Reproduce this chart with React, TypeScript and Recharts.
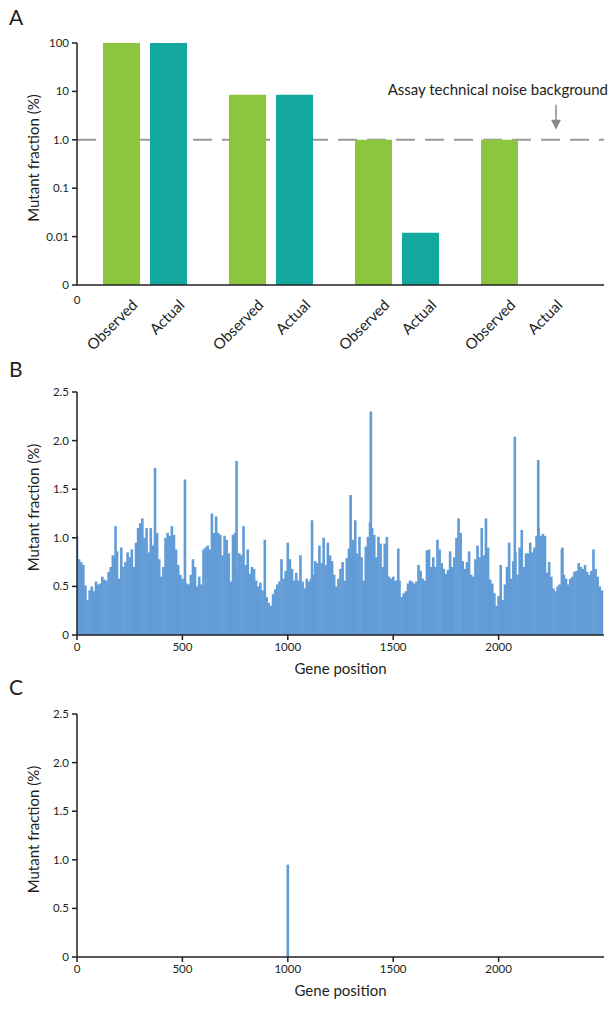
import React from "react";
import { BarChart, Bar, XAxis, YAxis, ReferenceLine, Label } from "recharts";

const FONT = "Lato, 'Open Sans', sans-serif";
const INK = "#231f20";
const GREEN = "#8cc63f";
const TEAL = "#13a89e";
const BLUE = "#629cd7";

// panel A: observed vs actual mutant fraction (log axis, "0" sits one decade under 0.01)
const groups = ["1", "2", "3", "4"];
const observed = [100, 8.5, 1.0, 1.0];
const actual: (number | null)[] = [100, 8.5, 0.012, null];
const barLabels = ["Observed", "Actual"];
const logTicks = [0.001, 0.01, 0.1, 1, 10, 100];
const logTickLabels = ["0", "0.01", "0.1", "1.0", "10", "100"];
const noiseLevel = 1;
const noiseText = "Assay technical noise background";

// panel B: mutant fraction along the gene, one value per 10 positions
const profileStep = 10;
const profile = [
  1.02, 0.78, 0.75, 0.72, 0.51, 0.36, 0.46, 0.5, 0.45, 0.55,
  0.52, 0.53, 0.6, 0.57, 0.56, 0.65, 0.7, 0.82, 0.8, 0.86,
  0.58, 0.9, 0.7, 0.75, 0.85, 0.8, 0.88, 0.7, 0.95, 1.1,
  1.15, 1.2, 1.0, 1.1, 0.85, 1.1, 0.92, 0.95, 1.05, 0.78,
  0.6, 0.7, 1.0, 1.05, 1.02, 1.12, 1.03, 0.88, 0.72, 0.62,
  0.58, 0.55, 0.53, 0.52, 0.62, 0.78, 0.7, 0.5, 0.6, 0.52,
  0.88, 0.9, 0.92, 0.88, 1.25, 1.05, 1.22, 1.05, 1.03, 0.82,
  1.02, 0.98, 0.84, 0.55, 1.03, 1.05, 0.62, 0.84, 0.82, 1.12,
  0.72, 0.88, 0.63, 0.7, 0.68, 0.56, 0.5, 0.54, 0.46, 0.4,
  0.39, 0.33, 0.3, 0.42, 0.47, 0.52, 0.55, 0.78, 0.58, 0.66,
  0.95, 0.78, 0.68, 0.56, 0.64, 0.56, 0.82, 0.55, 0.48, 0.58,
  0.55, 0.58, 0.62, 0.76, 0.74, 0.92, 0.74, 1.0, 0.72, 0.95,
  0.82, 0.76, 0.62, 0.5, 0.58, 0.68, 0.75, 0.56, 0.79, 0.89,
  0.79, 0.98, 1.18, 0.84, 1.01, 0.8, 0.56, 0.91, 1.01, 1.16,
  1.1, 1.03, 0.8, 1.01, 0.94, 0.7, 0.94, 1.01, 0.6, 0.58,
  0.6, 0.56, 0.56, 0.56, 0.39, 0.43, 0.45, 0.53, 0.56, 0.55,
  0.53, 0.55, 0.72, 0.66, 0.58, 0.56, 0.87, 0.88, 0.7, 0.8,
  0.7, 0.98, 0.88, 0.74, 0.68, 0.63, 0.67, 0.86, 0.7, 0.8,
  1.0, 1.2, 1.05, 0.76, 0.68, 0.75, 0.86, 0.62, 0.6, 0.78,
  0.92, 0.8, 1.1, 0.82, 1.2, 0.9, 0.57, 0.53, 0.43, 0.3,
  0.4, 0.72, 0.36, 0.52, 0.7, 0.95, 0.58, 0.76, 0.85, 0.62,
  0.9, 1.08, 0.7, 0.84, 0.84, 0.95, 0.85, 0.9, 1.02, 1.1,
  1.02, 1.04, 1.02, 0.64, 0.75, 0.6, 0.48, 0.45, 0.5, 0.52,
  0.88, 0.62, 0.58, 0.52, 0.58, 0.6, 0.65, 0.66, 0.74, 0.7,
  0.68, 0.72, 0.65, 0.62, 0.66, 0.88, 0.68, 0.6, 0.5, 0.46,
];
const spikePositions = [183, 370, 512, 757, 891, 1115, 1298, 1394, 1524, 2077, 2188, 2303];
const spikeValues = [1.12, 1.72, 1.6, 1.79, 0.98, 1.18, 1.44, 2.3, 0.89, 2.04, 1.8, 0.9];

// panel C: single mutant position
const singlePositions = [1000];
const singleValues = [0.95];

const geneTicks = [0, 500, 1000, 1500, 2000];
const fractionTicks = [0, 0.5, 1, 1.5, 2, 2.5];

const groupRows = groups.map((g, i) => ({ group: g, observed: observed[i], actual: actual[i] }));

const profileRows = [
  ...profile.map((v, i) => ({ pos: i * profileStep, value: v })),
  ...spikePositions.map((p, i) => ({ pos: p, value: spikeValues[i] })),
].sort((a, b) => a.pos - b.pos);

const singleRows = singlePositions.map((p, i) => ({ pos: p, value: singleValues[i] }));

const tickStyle = { fontSize: 11.5, fill: INK, fontFamily: FONT };
const axisLine = { stroke: INK, strokeWidth: 1.5 };

function YTitle(props: any) {
  const vb = props.viewBox;
  const cx = 33;
  const cy = vb.y + vb.height / 2 - 6;
  return (
    <text
      x={cx}
      y={cy}
      transform={`rotate(-90 ${cx} ${cy})`}
      textAnchor="middle"
      dominantBaseline="central"
      fontSize={15}
      fill={INK}
      fontFamily={FONT}
    >
      Mutant fraction (%)
    </text>
  );
}

function GroupTick(props: any) {
  const { x, y } = props;
  const half = (37 + 10) / 2;
  return (
    <g>
      {barLabels.map((t, i) => {
        const tx = x + (i === 0 ? -half : half) + 17;
        const ty = y + 21;
        return (
          <text
            key={t}
            x={tx}
            y={ty}
            textAnchor="end"
            transform={`rotate(-45 ${tx} ${ty})`}
            fontSize={15}
            fill={INK}
            fontFamily={FONT}
          >
            {t}
          </text>
        );
      })}
    </g>
  );
}

function OriginLabel(props: any) {
  const vb = props.viewBox;
  return (
    <text x={vb.x} y={vb.y + 19} textAnchor="middle" {...tickStyle}>
      0
    </text>
  );
}

function NoiseLabel(props: any) {
  const vb = props.viewBox;
  const right = vb.x + vb.width;
  const ax = right - 48;
  const y = vb.y;
  return (
    <g>
      <text x={right + 4} y={y - 45} textAnchor="end" fontSize={15} fill={INK} fontFamily={FONT}>
        {noiseText}
      </text>
      <line x1={ax} x2={ax} y1={y - 35} y2={y - 18} stroke="#8a8a8a" strokeWidth={1.5} />
      <polygon points={`${ax - 5},${y - 20} ${ax + 5},${y - 20} ${ax},${y - 10}`} fill="#8a8a8a" />
    </g>
  );
}

function GeneTitle(props: any) {
  const vb = props.viewBox;
  return (
    <text x={vb.x + vb.width / 2} y={vb.y + 39} textAnchor="middle" fontSize={15} fill={INK} fontFamily={FONT}>
      Gene position
    </text>
  );
}

// fixed-width column centred on the position, so the dense profile reads as a solid fill
function Column(props: any) {
  const { x, y, width, height, fill } = props;
  if (height == null || height <= 0) return null;
  const w = 2.6;
  return <rect x={x + width / 2 - w / 2} y={y} width={w} height={height} fill={fill} />;
}

function PanelLetter({ letter, top }: { letter: string; top: number }) {
  return (
    <div
      style={{
        position: "absolute",
        left: 9,
        top,
        fontFamily: FONT,
        fontSize: 21,
        color: INK,
        lineHeight: "21px",
      }}
    >
      {letter}
    </div>
  );
}

function GenePanel({ rows, top, marginTop, axisHeight }: any) {
  return (
    <div style={{ position: "absolute", left: 0, top }}>
      <BarChart width={616} height={330} data={rows} margin={{ top: marginTop, right: 12, bottom: 0, left: 20 }}>
        <XAxis
          dataKey="pos"
          type="number"
          domain={[0, 2500]}
          ticks={geneTicks}
          height={axisHeight}
          tickSize={5}
          tickMargin={3}
          tick={tickStyle}
          tickLine={{ stroke: INK, strokeWidth: 1.5 }}
          axisLine={axisLine}
          allowDataOverflow
        >
          <Label content={GeneTitle} />
        </XAxis>
        <YAxis
          type="number"
          domain={[0, 2.5]}
          ticks={fractionTicks}
          width={57}
          tickSize={5}
          tickMargin={3}
          tick={tickStyle}
          tickLine={{ stroke: INK, strokeWidth: 1.5 }}
          axisLine={axisLine}
          tickFormatter={(v: number) => (v === 0 ? "0" : v.toFixed(1))}
        >
          <Label content={YTitle} />
        </YAxis>
        <Bar dataKey="value" fill={BLUE} shape={Column} isAnimationActive={false} />
      </BarChart>
    </div>
  );
}

export default function App() {
  return (
    <div style={{ position: "absolute", left: 0, top: 0, width: 616, height: 1014, background: "#fff" }}>
      <PanelLetter letter="A" top={6} />
      <div style={{ position: "absolute", left: 0, top: 0 }}>
        <BarChart
          width={616}
          height={360}
          data={groupRows}
          margin={{ top: 43, right: 12, bottom: 0, left: 20 }}
          barSize={37}
          barGap={10}
          barCategoryGap={21}
        >
          <XAxis
            dataKey="group"
            height={75}
            padding={{ left: 5, right: 18 }}
            tickLine={false}
            tickSize={0}
            tickMargin={0}
            interval={0}
            axisLine={axisLine}
            tick={<GroupTick />}
          >
            <Label content={OriginLabel} />
          </XAxis>
          <YAxis
            type="number"
            scale="log"
            domain={[0.001, 100]}
            ticks={logTicks}
            allowDataOverflow
            width={57}
            tickSize={5}
            tickMargin={3}
            tick={tickStyle}
            tickLine={{ stroke: INK, strokeWidth: 1.5 }}
            axisLine={axisLine}
            tickFormatter={(v: number) => logTickLabels[logTicks.indexOf(v)] ?? String(v)}
          >
            <Label content={YTitle} />
          </YAxis>
          <ReferenceLine
            y={noiseLevel}
            stroke="#9a9a9a"
            strokeWidth={2}
            strokeDasharray="19 10"
            zIndex={100}
            label={NoiseLabel}
          />
          <Bar dataKey="observed" fill={GREEN} isAnimationActive={false} />
          <Bar dataKey="actual" fill={TEAL} isAnimationActive={false} />
        </BarChart>
      </div>
      <PanelLetter letter="B" top={358} />
      <GenePanel rows={profileRows} top={360} marginTop={32} axisHeight={55} />
      <PanelLetter letter="C" top={676} />
      <GenePanel rows={singleRows} top={680} marginTop={34} axisHeight={53} />
    </div>
  );
}
